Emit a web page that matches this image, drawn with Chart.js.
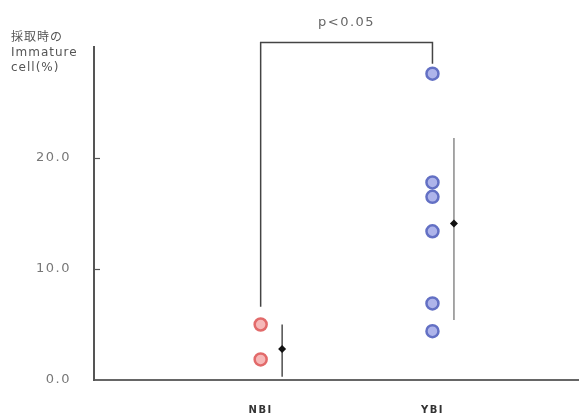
<!DOCTYPE html>
<html>
<head>
<meta charset="utf-8">
<script src="https://cdn.jsdelivr.net/npm/chart.js@4/dist/chart.umd.min.js"></script>
<style>
html,body{margin:0;padding:0;background:#fff;}
#wrap{width:587px;height:417px;position:relative;}
</style>
</head>
<body>
<div id="wrap"><canvas id="c" width="587" height="417"></canvas></div>
<script>
// ---- data ----
const categories = ['NBI', 'YBI'];
const nbiValues = [5.0, 1.85];
const ybiValues = [27.6, 17.8, 16.5, 13.4, 6.9, 4.4];
const groupMeans = [2.8, 14.1];
const errLow = [0.3, 5.4];
const errHigh = [5.0, 21.8];
const yTicks = [0, 10, 20];
const yTitleLines = ['採取時の', 'Immature', 'cell(%)'];
const pLabel = 'p<0.05';
const bracketTop = 30.4;
const bracketLeftBottom = 6.6;
const bracketRightBottom = 28.5;

const FONT = "'DejaVu Sans', 'Noto Sans CJK JP', sans-serif";
const catX = i => i + 1;          // category position on linear x scale
const meanOffset = 0.125;

const pts = (i, vals) => vals.map(v => ({x: catX(i), y: v}));

const textPlugin = {
  id: 'texts',
  beforeDraw(chart) {
    chart.ctx.letterSpacing = '1.5px';
  },
  afterDraw(chart) {
    const ctx = chart.ctx;
    const xs = chart.scales.x, ys = chart.scales.y;
    const area = chart.chartArea;
    ctx.save();
    // inner tick marks
    ctx.strokeStyle = '#555';
    ctx.lineWidth = 1.2;
    yTicks.forEach(t => {
      if (t === 0) return;
      const py = Math.round(ys.getPixelForValue(t)) + 0.5;
      ctx.beginPath();
      ctx.moveTo(area.left, py);
      ctx.lineTo(area.left + 6, py);
      ctx.stroke();
    });
    // p label
    ctx.letterSpacing = '1.5px';
    ctx.fillStyle = '#666';
    ctx.font = '13px ' + FONT;
    ctx.textAlign = 'center';
    ctx.textBaseline = 'middle';
    const cx = (xs.getPixelForValue(catX(0)) + xs.getPixelForValue(catX(1))) / 2;
    ctx.fillText(pLabel, cx, ys.getPixelForValue(bracketTop) - 20);
    // y title
    ctx.letterSpacing = '1px';
    ctx.textAlign = 'left';
    ctx.fillStyle = '#555';
    ctx.font = '12px ' + FONT;
    yTitleLines.forEach((s, i) => ctx.fillText(s, 11, 38 + i * 15));
    ctx.restore();
  }
};

new Chart(document.getElementById('c'), {
  type: 'scatter',
  data: {
    datasets: [
      {
        data: pts(0, nbiValues),
        pointStyle: 'circle', pointRadius: 6, pointHoverRadius: 6,
        borderWidth: 2.5, borderColor: '#e26a6a', backgroundColor: '#f6b8b8'
      },
      {
        data: pts(1, ybiValues),
        pointStyle: 'circle', pointRadius: 6, pointHoverRadius: 6,
        borderWidth: 2.5, borderColor: '#6370c4', backgroundColor: '#aeb4ea'
      },
      {
        data: [0, 1].map(i => ({x: catX(i) + meanOffset, y: groupMeans[i]})),
        pointStyle: 'rectRot', pointRadius: 4, borderWidth: 0,
        backgroundColor: '#111', borderColor: '#111'
      },
      {
        type: 'line',
        data: [{x: catX(0) + meanOffset, y: errLow[0]}, {x: catX(0) + meanOffset, y: errHigh[0]}],
        borderColor: '#333', borderWidth: 1.3, pointRadius: 0, fill: false
      },
      {
        type: 'line',
        data: [{x: catX(1) + meanOffset, y: errLow[1]}, {x: catX(1) + meanOffset, y: errHigh[1]}],
        borderColor: '#8a8a8a', borderWidth: 1.5, pointRadius: 0, fill: false
      },
      {
        type: 'line',
        data: [
          {x: catX(0), y: bracketLeftBottom},
          {x: catX(0), y: bracketTop},
          {x: catX(1), y: bracketTop},
          {x: catX(1), y: bracketRightBottom}
        ],
        borderColor: '#444', borderWidth: 1.5, pointRadius: 0, fill: false,
        tension: 0, clip: false
      }
    ]
  },
  options: {
    responsive: false,
    animation: false,
    events: [],
    layout: {padding: {top: 47, right: 5, left: 0, bottom: 0}},
    plugins: {legend: {display: false}, tooltip: {enabled: false}, title: {display: false}},
    scales: {
      x: {
        type: 'linear',
        min: 0.03, max: 2.85,
        afterBuildTicks(s) { s.ticks = categories.map((c, i) => ({value: catX(i)})); },
        afterFit(s) { s.height = 37; },
        ticks: {
          callback: v => categories[v - 1] || '',
          color: '#333', font: {family: FONT, size: 10, weight: 'bold'},
          padding: 24, maxRotation: 0, autoSkip: false
        },
        grid: {display: false, drawTicks: false},
        border: {display: true, color: '#666', width: 2}
      },
      y: {
        min: 0, max: 30,
        afterBuildTicks(s) { s.ticks = yTicks.map(v => ({value: v})); },
        afterFit(s) { s.width = 94; },
        ticks: {
          callback: v => Number(v).toFixed(1),
          color: '#777', font: {family: FONT, size: 13},
          padding: 23
        },
        grid: {display: false, drawTicks: false},
        border: {display: true, color: '#555', width: 2}
      }
    }
  },
  plugins: [textPlugin]
});
</script>
</body>
</html>
